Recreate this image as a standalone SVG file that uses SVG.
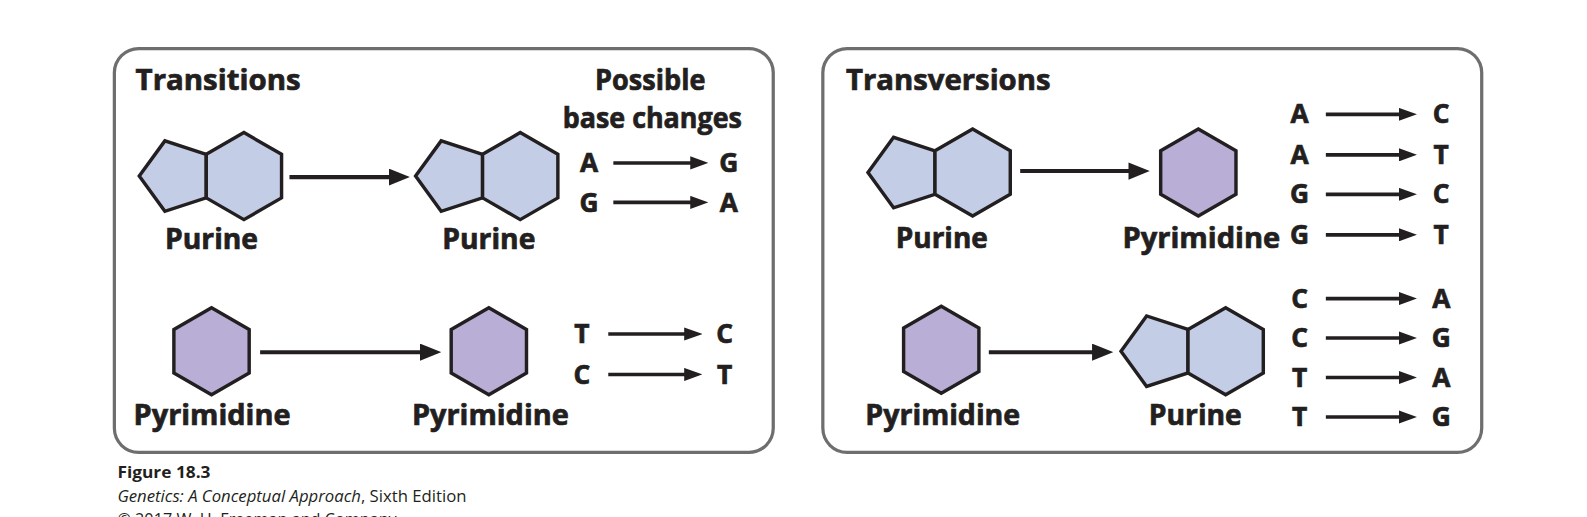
<svg xmlns="http://www.w3.org/2000/svg" width="1587" height="517" viewBox="0 0 1587 517">
<defs>
<style>
.box{fill:#fff;stroke:#6e6e6e;stroke-width:3.2}
.pur{fill:#c3cde6;stroke:#231f20;stroke-width:3.4;stroke-linejoin:miter}
.pyr{fill:#b8aed6;stroke:#231f20;stroke-width:3.4;stroke-linejoin:miter}
.t{font-family:"Open Sans","Liberation Sans",sans-serif;font-weight:bold;fill:#231f20;stroke:#231f20;stroke-width:0.7}
.h{font-size:28px}
.lb{font-size:28px;text-anchor:middle}
.lt{font-size:26px;text-anchor:middle}
.big{stroke:#231f20;stroke-width:4;fill:none;marker-end:url(#ah)}
.sm{stroke:#231f20;stroke-width:3.6;fill:none;marker-end:url(#as)}
.cap{font-family:"Open Sans","Liberation Sans",sans-serif;fill:#231f20;font-size:15.5px}
</style>
<marker id="ah" markerUnits="userSpaceOnUse" markerWidth="21" markerHeight="17" viewBox="0 0 21 17" refX="9" refY="8.5" orient="auto"><path d="M0,0 L21,8.5 L0,17 z" fill="#231f20"/></marker>
<marker id="as" markerUnits="userSpaceOnUse" markerWidth="18" markerHeight="13" viewBox="0 0 18 13" refX="7" refY="6.5" orient="auto"><path d="M0,0 L18,6.5 L0,13 z" fill="#231f20"/></marker>
<g id="purine">
<polygon class="pur" points="-37.2,-21.5 -78.1,-34.8 -103.4,0 -78.1,34.8 -37.2,21.5"/>
<polygon class="pur" points="0,-43 37.2,-21.5 37.2,21.5 0,43 -37.2,21.5 -37.2,-21.5"/>
</g>
<polygon id="pyrimidine" class="pyr" points="0,-43 37.2,-21.5 37.2,21.5 0,43 -37.2,21.5 -37.2,-21.5"/>
</defs>
<rect width="1587" height="517" fill="#fff"/>
<g transform="scale(1.0121)">
<g id="panel-transitions">
<rect class="box" x="113" y="48" width="651" height="399" rx="24"/>
<text class="t h" x="134" y="89" textLength="163" lengthAdjust="spacingAndGlyphs">Transitions</text>
<text class="t h" x="588" y="89" textLength="109" lengthAdjust="spacingAndGlyphs">Possible</text>
<text class="t h" x="556" y="126" textLength="177" lengthAdjust="spacingAndGlyphs">base changes</text>
</g>
<g id="panel-transversions">
<rect class="box" x="813" y="48" width="651" height="399" rx="24"/>
<text class="t h" x="836" y="89" textLength="202" lengthAdjust="spacingAndGlyphs">Transversions</text>
</g>
<g id="ti-purine-a"><use href="#purine" x="241" y="174"/><text class="t lb" x="209" y="246" textLength="92" lengthAdjust="spacingAndGlyphs">Purine</text></g>
<g id="ti-purine-b"><use href="#purine" x="514" y="174"/><text class="t lb" x="483" y="246" textLength="92" lengthAdjust="spacingAndGlyphs">Purine</text></g>
<g id="ti-pyr-a"><use href="#pyrimidine" x="209" y="347"/><text class="t lb" x="209.5" y="420" textLength="155" lengthAdjust="spacingAndGlyphs">Pyrimidine</text></g>
<g id="ti-pyr-b"><use href="#pyrimidine" x="483" y="347"/><text class="t lb" x="484.5" y="420" textLength="155" lengthAdjust="spacingAndGlyphs">Pyrimidine</text></g>
<g id="tv-purine-a"><use href="#purine" x="961" y="170.5"/><text class="t lb" x="930.5" y="245" textLength="91" lengthAdjust="spacingAndGlyphs">Purine</text></g>
<g id="tv-pyr-a"><use href="#pyrimidine" x="1184" y="170.5"/><text class="t lb" x="1187" y="245" textLength="156" lengthAdjust="spacingAndGlyphs">Pyrimidine</text></g>
<g id="tv-pyr-b"><use href="#pyrimidine" x="930" y="345.5"/><text class="t lb" x="931.5" y="420" textLength="153" lengthAdjust="spacingAndGlyphs">Pyrimidine</text></g>
<g id="tv-purine-b"><use href="#purine" x="1211" y="347"/><text class="t lb" x="1181" y="420" textLength="92" lengthAdjust="spacingAndGlyphs">Purine</text></g>
<g id="base-changes">
<text class="t lt" x="582" y="170">A</text><text class="t lt" x="720" y="170">G</text>
<text class="t lt" x="582" y="209">G</text><text class="t lt" x="720" y="209">A</text>
<text class="t lt" x="575" y="339">T</text><text class="t lt" x="716" y="339">C</text>
<text class="t lt" x="575" y="379">C</text><text class="t lt" x="716" y="379">T</text>
<text class="t lt" x="1284" y="122">A</text><text class="t lt" x="1424" y="122">C</text>
<text class="t lt" x="1284" y="162">A</text><text class="t lt" x="1424" y="162">T</text>
<text class="t lt" x="1284" y="201">G</text><text class="t lt" x="1424" y="201">C</text>
<text class="t lt" x="1284" y="241">G</text><text class="t lt" x="1424" y="241">T</text>
<text class="t lt" x="1284" y="304">C</text><text class="t lt" x="1424" y="304">A</text>
<text class="t lt" x="1284" y="343">C</text><text class="t lt" x="1424" y="343">G</text>
<text class="t lt" x="1284" y="382">T</text><text class="t lt" x="1424" y="382">A</text>
<text class="t lt" x="1284" y="421">T</text><text class="t lt" x="1424" y="421">G</text>
</g>
<g id="connectors">
<line class="big" x1="286" y1="175" x2="393" y2="175"/>
<line class="big" x1="257" y1="348" x2="424" y2="348"/>
<line class="big" x1="1008" y1="169" x2="1124" y2="169"/>
<line class="big" x1="977" y1="348" x2="1088" y2="348"/>
<line class="sm" x1="606" y1="161" x2="689" y2="161"/>
<line class="sm" x1="606" y1="200" x2="689" y2="200"/>
<line class="sm" x1="601" y1="330" x2="683" y2="330"/>
<line class="sm" x1="601" y1="370" x2="683" y2="370"/>
<line class="sm" x1="1310" y1="113" x2="1389" y2="113"/>
<line class="sm" x1="1310" y1="153" x2="1389" y2="153"/>
<line class="sm" x1="1310" y1="192" x2="1389" y2="192"/>
<line class="sm" x1="1310" y1="232" x2="1389" y2="232"/>
<line class="sm" x1="1310" y1="295" x2="1389" y2="295"/>
<line class="sm" x1="1310" y1="334" x2="1389" y2="334"/>
<line class="sm" x1="1310" y1="373" x2="1389" y2="373"/>
<line class="sm" x1="1310" y1="412" x2="1389" y2="412"/>
</g>
<g id="caption">
<text class="cap" x="116" y="472" font-weight="bold" textLength="92" lengthAdjust="spacingAndGlyphs">Figure 18.3</text>
<text class="cap" x="116" y="496" textLength="345" lengthAdjust="spacingAndGlyphs"><tspan font-style="italic">Genetics: A Conceptual Approach</tspan>, Sixth Edition</text>
<text class="cap" x="116" y="519" textLength="276" lengthAdjust="spacingAndGlyphs">© 2017 W. H. Freeman and Company</text>
</g>
</g>
</svg>
